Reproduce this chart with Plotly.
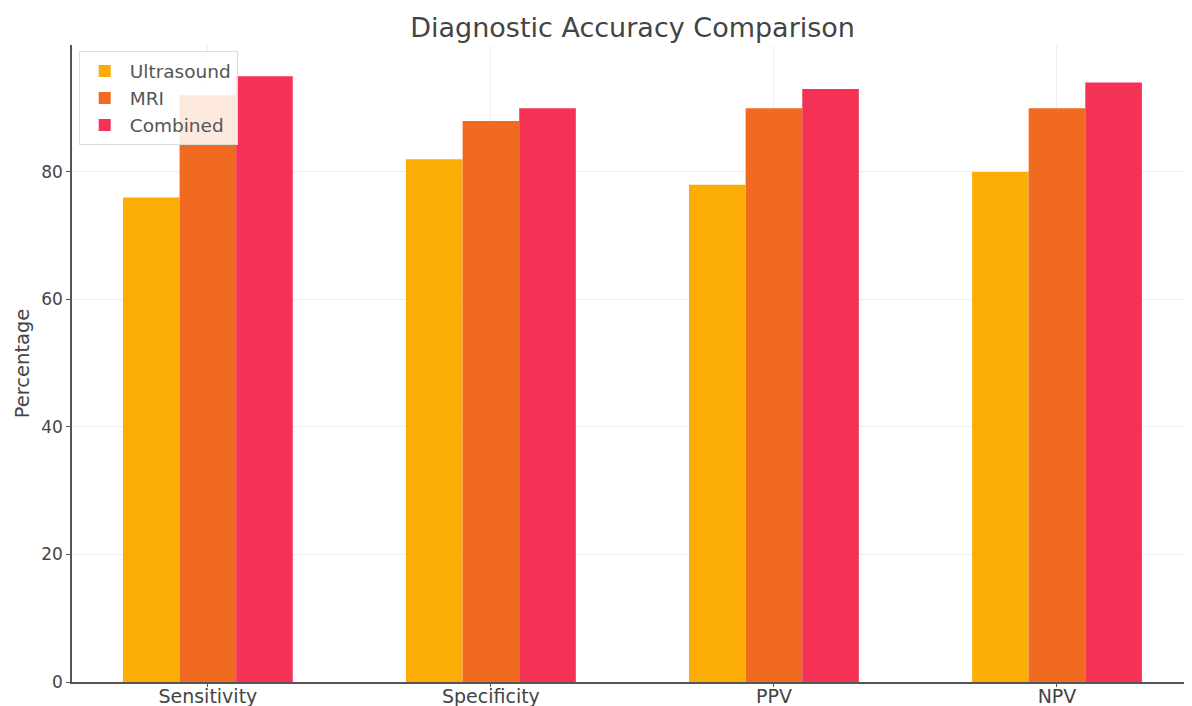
import plotly.graph_objects as go

categories = ["Sensitivity", "Specificity", "PPV", "NPV"]
ultrasound = [76, 82, 78, 80]
mri = [92, 88, 90, 90]
combined = [95, 90, 93, 94]
series_names = ["Ultrasound", "MRI", "Combined"]
colors = ["#FCAD05", "#F16A22", "#F33256"]

fig = go.Figure()
for name, vals, col in zip(series_names, [ultrasound, mri, combined], colors):
    fig.add_trace(go.Bar(name=name, x=categories, y=vals,
                         marker=dict(color=col, line=dict(width=0)), width=0.2))

font = "DejaVu Sans, sans-serif"
fig.update_layout(
    width=1192, height=706,
    barmode="group", bargap=0.4, bargroupgap=0,
    plot_bgcolor="white", paper_bgcolor="white",
    margin=dict(l=64, r=8, t=37, b=32),
    title=dict(text="Diagnostic Accuracy Comparison", x=0.524, xanchor="center", y=0.973, yanchor="middle",
               font=dict(family=font, size=27, color="#444444")),
    font=dict(family=font, size=15, color="#444444"),
    legend=dict(x=0.006, y=0.99, xanchor="left", yanchor="top", bgcolor="rgba(255,255,255,0.85)",
                bordercolor="#dddddd", borderwidth=1, font=dict(size=18.5, color="#555555"),
                itemwidth=40),
    showlegend=True,
)
fig.update_xaxes(range=[-0.48, 3.477], showgrid=True, gridcolor="#eeeeee", showline=True, linecolor="#555555",
                 linewidth=1.5, ticks="outside", ticklen=3, tickcolor="#555555", automargin=False,
                 ticklabelstandoff=-7,
                 tickfont=dict(size=19, color="#444444"))
fig.update_yaxes(range=[0, 99.9], tickvals=[0, 20, 40, 60, 80], showgrid=True, gridcolor="#eeeeee",
                 showline=True, linecolor="#555555", linewidth=1.5, ticks="outside", ticklen=4,
                 tickcolor="#555555", zeroline=False, automargin=False,
                 tickfont=dict(size=17, color="#444444"),
                 title=dict(text="Percentage", font=dict(size=19.5, color="#444444"), standoff=6))
fig.write_html("out.html")
